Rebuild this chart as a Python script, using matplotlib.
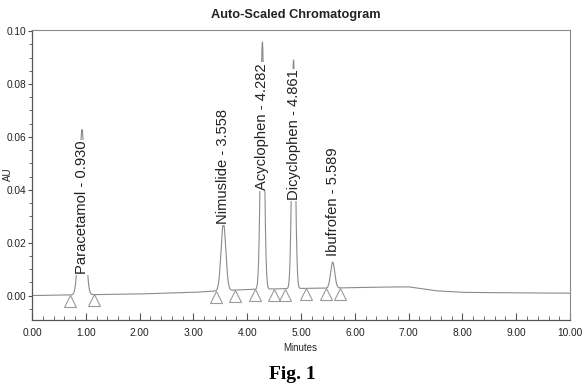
import numpy as np
import matplotlib
matplotlib.use("Agg")
import matplotlib.pyplot as plt
from matplotlib.ticker import MultipleLocator, FormatStrFormatter

# peak table (retention time, height above baseline, width)
peak_names = ["Paracetamol", "Nimuslide", "Acyclophen", "Dicyclophen", "Ibufrofen"]
peak_rt = [0.930, 3.558, 4.282, 4.861, 5.589]
peak_height = [0.0625, 0.0255, 0.0935, 0.0865, 0.0098]
peak_sigma = [0.052, 0.044, 0.034, 0.032, 0.038]
label_bottom = [0.008, 0.027, 0.040, 0.036, 0.015]
peak_start = [0.71, 3.42, 4.14, 4.70, 5.46]
peak_end = [1.15, 3.77, 4.50, 5.09, 5.72]

# baseline drift
base_t = [0.0, 1.0, 2.0, 3.0, 3.5, 4.0, 4.5, 5.0, 5.5, 6.0, 6.5, 7.0, 7.5, 8.0, 9.0, 10.0]
base_au = [0.0, 0.0003, 0.0006, 0.0012, 0.0018, 0.0023, 0.0025, 0.0027, 0.0028,
           0.0030, 0.0032, 0.0033, 0.0018, 0.0012, 0.0010, 0.0009]

SANS = ["Liberation Sans", "DejaVu Sans"]
LINE = "#8a8a8a"

t = np.linspace(0, 10, 4001)
signal = np.interp(t, base_t, base_au)
for rt, h, s in zip(peak_rt, peak_height, peak_sigma):
    signal = signal + h * np.exp(-0.5 * ((t - rt) / s) ** 2)

fig = plt.figure(figsize=(5.85, 3.92), dpi=100)
ax = fig.add_axes([0.0547, 0.184, 0.9197, 0.740])
ax.plot(t, signal, color=LINE, lw=0.8, zorder=2)

# integration start/end markers
tri_x = peak_start + peak_end
tri_y = np.interp(tri_x, base_t, base_au) - 0.0022
ax.plot(tri_x, tri_y, ls="none", marker="^", ms=8, mfc="none",
        mec="#9a9a9a", mew=0.8, zorder=3)

for name, rt, yb in zip(peak_names, peak_rt, label_bottom):
    ax.text(rt, yb, f"{name} - {rt:.3f}", rotation=90, ha="center", va="bottom",
            fontsize=10.6, family=SANS, color="#222222",
            bbox=dict(facecolor="white", edgecolor="none", pad=0.6), zorder=4)

ax.set_xlim(0, 10)
ax.set_ylim(-0.0092, 0.1005)
ax.xaxis.set_major_locator(MultipleLocator(1))
ax.xaxis.set_minor_locator(MultipleLocator(0.2))
ax.yaxis.set_major_locator(MultipleLocator(0.02))
ax.yaxis.set_minor_locator(MultipleLocator(0.005))
ax.xaxis.set_major_formatter(FormatStrFormatter("%.2f"))
ax.yaxis.set_major_formatter(FormatStrFormatter("%.2f"))
ax.tick_params(axis="x", which="both", direction="in", colors="#555555",
               labelcolor="#222222", pad=6)
ax.tick_params(axis="x", which="major", length=5)
ax.tick_params(axis="x", which="minor", length=3)
ax.tick_params(axis="y", which="both", direction="out", colors="#555555",
               labelcolor="#222222", pad=1)
ax.tick_params(axis="y", which="major", length=3)
ax.tick_params(axis="y", which="minor", length=2)
for lab in ax.get_xticklabels() + ax.get_yticklabels():
    lab.set_family(SANS)
    lab.set_fontsize(7.3)
for side in ["left", "bottom"]:
    ax.spines[side].set_color("#555555")
    ax.spines[side].set_linewidth(0.9)
for side in ["top", "right"]:
    ax.spines[side].set_color("#8a8a8a")
    ax.spines[side].set_linewidth(0.8)

fig.text(0.505, 0.962, "Auto-Scaled Chromatogram", ha="center", va="center",
         fontsize=9.2, fontweight="bold", family=SANS, color="#222222")
fig.text(0.514, 0.112, "Minutes", ha="center", va="center",
         fontsize=7, family=SANS, color="#222222")
fig.text(0.013, 0.555, "AU", ha="center", va="center", rotation=90,
         fontsize=7, family=SANS, color="#222222")
fig.text(0.5, 0.045, "Fig. 1", ha="center", va="center", fontsize=14,
         fontweight="bold", family=["Liberation Serif", "DejaVu Serif"])

fig.savefig("out.png", dpi=100, facecolor="white")
